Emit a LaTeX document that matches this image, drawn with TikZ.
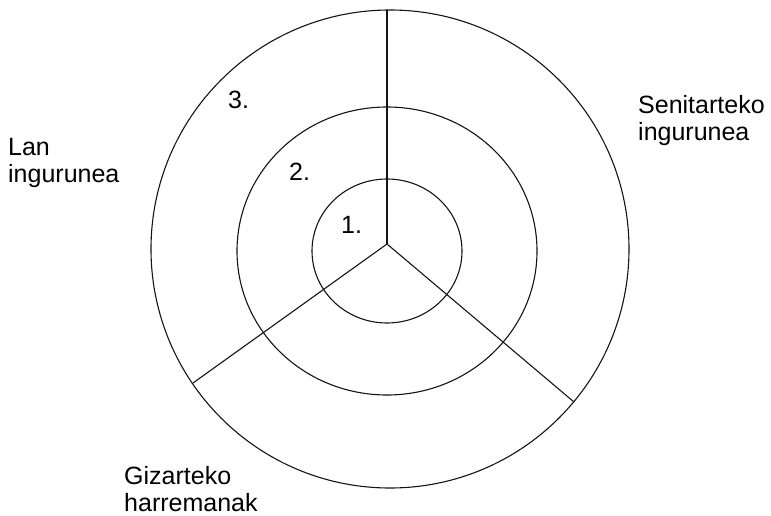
\documentclass[tikz,border=0pt]{standalone}
\usepackage{fontspec}
\setmainfont{Liberation Sans}
\usepackage{xcolor}
\usepackage{tikz}
\definecolor{ringblack}{RGB}{20, 20, 20}

\begin{document}
\begin{tikzpicture}[
    x=1pt, y=-1pt,
    ring/.style={draw=ringblack, line width=1.1pt},
    spoke/.style={draw=ringblack, line width=1.1pt},
    level/.style={anchor=base west, inner sep=0pt, font=\fontsize{25}{27}\selectfont},
    sphere/.style={anchor=north west, inner sep=0pt, align=left,
                   font=\fontsize{25}{27}\selectfont}
]
    \useasboundingbox (0,0) rectangle (771,516);

    % Zirkuluak
    \draw[ring] (390,249) circle [radius=239];
    \draw[ring] (387,251) ellipse [x radius=150, y radius=144];
    \draw[ring] (387,251) ellipse [x radius=75, y radius=72];

    % Erradioak
    \coordinate (apex) at (387,244);
    \coordinate (topend) at (387,10);
    \coordinate (leftend) at (193,383);
    \coordinate (rightend) at (574,402);
    \draw[spoke] (apex) -- (topend);
    \draw[spoke] (apex) -- (leftend);
    \draw[spoke] (apex) -- (rightend);

    % Mailak
    \node[level] (lvlone) at (341,233) {1.};
    \node[level] (lvltwo) at (289,180) {2.};
    \node[level] (lvlthree) at (228,109) {3.};

    % Inguruneak
    \node[sphere] (family) at (638,95) {Senitarteko\\ingurunea};
    \node[sphere] (work) at (8,138) {Lan\\ingurunea};
    \node[sphere] (social) at (124,466) {Gizarteko\\harremanak};
\end{tikzpicture}
\end{document}
